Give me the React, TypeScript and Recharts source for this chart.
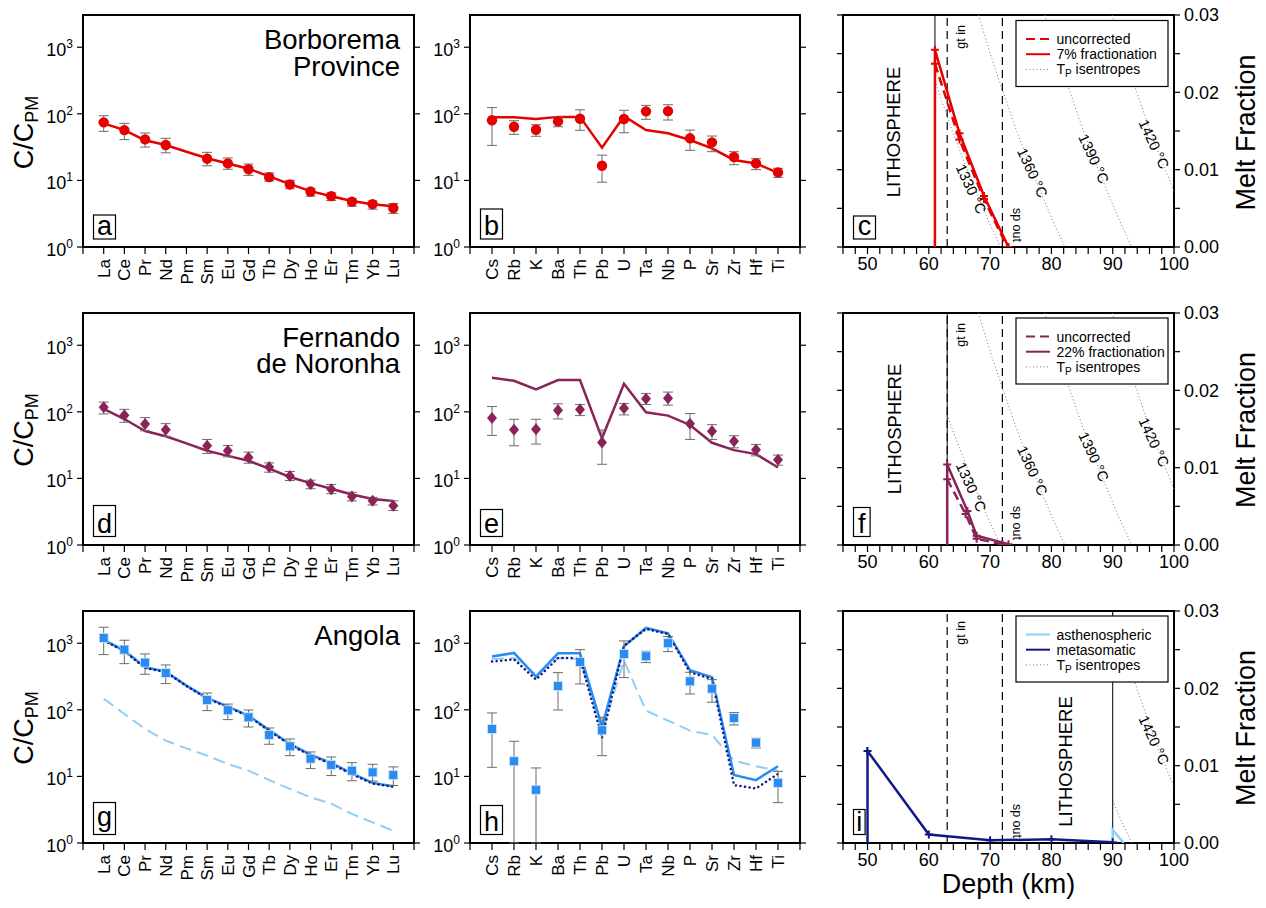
import React from 'react';
import {
  ComposedChart,
  Line,
  Scatter,
  XAxis,
  YAxis,
  ErrorBar,
  ReferenceLine,
  ReferenceDot,
  ReferenceArea,
} from 'recharts';

const FONT = '"Liberation Sans", Arial, Helvetica, sans-serif';

// plot geometry (px on the page)
const COL_X = [83, 470, 843];
const COL_W = [331, 330, 331];
const ROW_Y = [15, 312.5, 610.5];
const ROW_H = 232;
const AX_W = 75;
const M_TOP = 10;
const X_H = 60;

const RED = '#e60000';
const MAROON = '#8a2357';
const BLUE = '#2a8cf0';
const LIGHT = '#8ecff7';
const NAVY = '#101a85';
const ERR = '#6b6b6b';
const ISO = '#777';

const REE = ['La', 'Ce', 'Pr', 'Nd', 'Pm', 'Sm', 'Eu', 'Gd', 'Tb', 'Dy', 'Ho', 'Er', 'Tm', 'Yb', 'Lu'];
const SPIDER = ['Cs', 'Rb', 'K', 'Ba', 'Th', 'Pb', 'U', 'Ta', 'Nb', 'P', 'Sr', 'Zr', 'Hf', 'Ti'];
const LOG_TICKS = [1, 10, 100, 1000];
const LOG_DOMAIN = [1, 3050];

// a - Borborema REE
const aObs = [74.5, 57, 41.4, 34, null, 21.2, 18, 14.7, 11.2, 8.7, 6.8, 5.8, 4.8, 4.4, 3.85];
const aLo = [54.6, 41, 31.7, 26, null, 16.6, 14.7, 11.9, 9.8, 7.5, 5.8, 5.0, 4.1, 3.7, 3.2];
const aHi = [93.6, 72, 51.5, 42.9, null, 26.4, 21.7, 17.6, 12.9, 10, 7.6, 6.5, 5.3, 4.9, 4.5];
const aModel = [72, 57, 40, 34, 27, 21.5, 18, 15, 11.5, 8.8, 6.9, 5.8, 4.9, 4.4, 4.1];

// b - Borborema spider
const bObs = [80, 64, 57.7, 77, 84.5, 16.6, 83.5, 109, 110, 42.9, 37.3, 22.5, 18, 13.2];
const bLo = [33.6, 49.2, 46, 64, 56.5, 9.4, 52, 82.6, 80.7, 28.3, 27, 17.2, 14.5, 11.1];
const bHi = [124, 78.8, 68.6, 90.5, 115, 24, 113, 134, 137, 57, 46.4, 27, 21.2, 15.2];
const bModel = [88.5, 88.5, 84, 90, 90, 31, 92, 57, 51, 40.4, 30.3, 20.3, 18, 13];

// d - Fernando de Noronha REE
const dObs = [117, 88.9, 65.7, 54, null, 30.9, 26, 20.6, 14.9, 10.9, 8.25, 6.85, 5.37, 4.62, 3.88];
const dLo = [93, 69.6, 52, 42.8, null, 23.7, 21.1, 16.9, 12.4, 9.3, 7, 5.9, 4.6, 4, 3.3];
const dHi = [140, 109, 82, 66.5, null, 38.5, 31.3, 24.8, 17.1, 12.7, 9.4, 8.1, 6.2, 5.2, 4.6];
const dModel = [111, 78, 51.5, 43, 33.6, 26, 21.8, 18.4, 14, 10.5, 8.5, 7, 5.75, 4.9, 4.57];

// e - Fernando de Noronha spider
const eObs = [81, 54, 54.6, 106, 108, 34.7, 113, 157, 160, 66.5, 51, 36, 26.9, 19];
const eLo = [44.3, 30.9, 32.8, 78.2, 87.8, 16.3, 89.9, 129, 126, 38.5, 38.5, 28.8, 21.8, 15.8];
const eHi = [120, 77.3, 77.3, 132, 129, 53.3, 133, 189, 198, 94.2, 64.2, 43.8, 32.4, 22.4];
const eModel = [326, 293, 217, 300, 300, 40, 264, 98.6, 87.8, 63.5, 34.3, 26.6, 23.2, 14.6];

// g - Angola REE
const gObs = [1201, 802, 512, 358, null, 141, 98.4, 77.2, 41.9, 28.3, 18.5, 14.9, 12.2, 11.5, 10.5];
const gLo = [675, 494, 342, 248, null, 97.3, 71.3, 55.3, 30.4, 20.5, 13.1, 10.3, 8.6, 8.5, 7.3];
const gHi = [1738, 1109, 691, 472, null, 179, 122, 99.5, 53.4, 36.5, 23.3, 19.6, 16.1, 15.2, 13.9];
const gTotal = [1122, 775, 435, 375, 231, 151, 112, 82, 49.8, 30.7, 21.2, 15.9, 11.1, 8, 7.1];
const gMeta = [1100, 760, 425, 370, 228, 148, 110, 80, 48.5, 30, 20.6, 15.4, 10.8, 7.8, 7.0];
const gAsth = [147, 86.7, 51.6, 34.5, 26.4, 20.5, 15.4, 12.2, 8.8, 6.5, 4.85, 3.9, 2.73, 2.04, 1.53];

// h - Angola spider
const hObs = [51.6, 16.9, 6.3, 228, 524, 49.3, 691, 637, 1000, 268, 208, 75.5, 32.2, 8.0];
const hLo = [13.7, 1, 1, 99.5, 245, 20.5, 305, 512, 749, 173, 130, 59.3, 26.8, 4.04];
const hHi = [89.8, 33.7, 13.4, 362, 802, 77.3, 1083, 757, 1259, 366, 284, 90.8, 37.4, 11.9];
const hTotal = [630, 715, 315, 707, 707, 56, 900, 1698, 1413, 393, 308, 10.5, 8.8, 14.2];
const hMeta = [530, 574, 284, 601, 601, 37.8, 921, 1640, 1380, 366, 291, 7.4, 6.6, 10.9];
const hAsth = [581, 601, 338, 601, 574, 46, 548, 97.3, 68.8, 48.7, 41.9, 17.3, 14.2, 12.2];

// melt fraction vs depth
const DEPTH_TICKS = [46, 48, 50, 52, 54, 56, 58, 60, 62, 64, 66, 68, 70, 72, 74, 76, 78, 80, 82, 84, 86, 88, 90, 92, 94, 96, 98, 100];
const F_TICKS = [0, 0.005, 0.01, 0.015, 0.02, 0.025, 0.03];
const GT_IN = 63;
const SP_OUT = 72;

const cSolidD = [61, 61, 65, 69, 73];
const cSolidF = [0, 0.0255, 0.0147, 0.0066, 0];
const cDashD = [61, 65, 69, 72.8];
const cDashF = [0.0237, 0.0139, 0.0062, 0];

const fSolidD = [63, 63, 66.3, 67.8, 73];
const fSolidF = [0, 0.0104, 0.0044, 0.0012, 0.0001];
const fDashD = [63, 66, 67.8, 72];
const fDashF = [0.0085, 0.004, 0.0008, 0.0001];

const iMetaD = [50, 50, 60, 70, 80, 90];
const iMetaF = [0, 0.0119, 0.0011, 0.00035, 0.00047, 0.0001];
const iAsthD = [90, 90, 91.8];
const iAsthF = [0, 0.0017, 0];

const isoF = [0.03, 0.0248, 0.0201, 0.0155, 0.0113, 0.0074, 0.0036, 0];
const iso1330D = [57.6, 59.6, 61.6, 63.6, 65.6, 67.6, 69.6, 71.7];
const iso1360D = [68.1, 70.1, 72.1, 74.1, 76.1, 78.1, 80.1, 82.2];
const iso1390D = [78.9, 81, 83, 85, 87, 89, 91, 93.1];
const iso1420D = [89.9, 91.9, 93.9, 95.9, 97.9, 99.9, 101.9, 104];
const isoTemps = [1330, 1360, 1390, 1420];
const isoLabD = [66.9, 76.9, 86.9, 96.7];
const isoLabF = [0.0075, 0.0096, 0.0114, 0.0133];

const obsPoints = (obs: any[], lo: any[], hi: any[]) =>
  obs.flatMap((v, i) => (v == null ? [] : [{ x: i + 1, y: v, err: [v - lo[i], hi[i] - v] }]));
const curve = (vals: number[]) => vals.map((v, i) => ({ x: i + 1, y: v }));
const melt = (ds: number[], fs: number[], markFrom: number) => ds.map((d, i) => ({ d, f: fs[i], m: i >= markFrom }));

// cut an isentrope at the base of the lithosphere
const clipIso = (ds: number[], lith: number) => {
  const out: any[] = [];
  ds.forEach((d, i) => {
    if (d < lith) return;
    if (i > 0 && ds[i - 1] < lith) {
      const t = (lith - ds[i - 1]) / (d - ds[i - 1]);
      out.push({ d: lith, f: isoF[i - 1] + t * (isoF[i] - isoF[i - 1]) });
    }
    out.push({ d, f: isoF[i] });
  });
  return out;
};

const TICK_LINE = { stroke: '#000', strokeWidth: 1.2 };
const NoTick = () => <g />;

const LogTick = (props: any) => {
  const { x, y, payload } = props;
  const n = Math.round(Math.log10(payload.value));
  return (
    <text x={x} y={y + 9} textAnchor="end" fontSize={18} fontFamily={FONT} fill="#000">
      10<tspan dy={-8} fontSize={12}>{n}</tspan>
    </text>
  );
};

const elTick = (labels: string[]) => (props: any) => {
  const { x, y, payload } = props;
  const lab = labels[payload.value - 1];
  if (!lab) return <g />;
  const yy = y + 3;
  return (
    <text x={x} y={yy} transform={`rotate(-90 ${x} ${yy})`} textAnchor="end" dy="0.36em" fontSize={17} fontFamily={FONT} fill="#000">
      {lab}
    </text>
  );
};

const DepthTick = (props: any) => {
  const { x, y, payload } = props;
  if (payload.value % 10 !== 0) return <g />;
  return (
    <text x={x} y={y + 13.5} textAnchor="middle" fontSize={18} fontFamily={FONT} fill="#000">
      {payload.value}
    </text>
  );
};

const FracTick = (props: any) => {
  const { x, y, payload } = props;
  const v = payload.value;
  if (Math.abs(v * 100 - Math.round(v * 100)) > 1e-6) return <g />;
  return (
    <text x={x} y={y + 6.4} textAnchor="start" fontSize={18} fontFamily={FONT} fill="#000">
      {v.toFixed(2)}
    </text>
  );
};

const circle = (color: string) => (p: any) => <circle cx={p.cx} cy={p.cy} r={5.2} fill={color} />;
const diamond = (color: string) => (p: any) => (
  <polygon points={`${p.cx},${p.cy - 6} ${p.cx + 5},${p.cy} ${p.cx},${p.cy + 6} ${p.cx - 5},${p.cy}`} fill={color} />
);
const square = (color: string) => (p: any) => (
  <rect x={p.cx - 4.5} y={p.cy - 4.5} width={9} height={9} fill={color} stroke="#cfe6fb" strokeWidth={0.8} />
);

const plusDot = (color: string) => (p: any) => {
  const { cx, cy, payload, index } = p;
  if (!payload || !payload.m) return <g key={index} />;
  return <path key={index} d={`M${cx - 4},${cy}H${cx + 4}M${cx},${cy - 4}V${cy + 4}`} stroke={color} strokeWidth={2} fill="none" />;
};

type Series = { data: any[]; color: string; width?: number; dash?: string; cap?: any };

function LogPanel({ col, row, labels, points, shape, lines }: { col: number; row: number; labels: string[]; points: any[]; shape: any; lines: Series[] }) {
  const n = labels.length;
  const ticks = Array.from({ length: n + 2 }, (_, i) => i);
  const W = COL_W[col] + 2 * AX_W;
  const H = ROW_H + M_TOP + X_H;
  return (
    <div style={{ position: 'absolute', left: COL_X[col] - AX_W, top: ROW_Y[row] - M_TOP }}>
      <ComposedChart width={W} height={H} margin={{ top: M_TOP, right: 0, bottom: 0, left: 0 }}>
        <XAxis type="number" dataKey="x" domain={[0, n + 1]} ticks={ticks} interval={0} allowDataOverflow height={X_H}
          tickSize={7} tickMargin={2} axisLine={false} tickLine={TICK_LINE} tick={elTick(labels)} />
        <YAxis type="number" scale="log" domain={LOG_DOMAIN} ticks={LOG_TICKS} interval={0} allowDataOverflow width={AX_W}
          tickSize={6} tickMargin={4} axisLine={false} tickLine={TICK_LINE} tick={LogTick} />
        <YAxis yAxisId="r" orientation="right" type="number" scale="log" domain={LOG_DOMAIN} ticks={LOG_TICKS} interval={0}
          allowDataOverflow width={AX_W} tickSize={6} axisLine={false} tickLine={TICK_LINE} tick={NoTick} />
        <ReferenceArea x1={0} x2={n + 1} y1={LOG_DOMAIN[0]} y2={LOG_DOMAIN[1]} fill="none" stroke="#000" strokeWidth={2} ifOverflow="visible" />
        {lines.map((s, k) => (
          <Line key={k} data={s.data} dataKey="y" stroke={s.color} strokeWidth={s.width ?? 2.5} strokeDasharray={s.dash}
            strokeLinecap={s.cap ?? 'butt'} dot={false} isAnimationActive={false} />
        ))}
        <Scatter data={points} dataKey="y" shape={shape} isAnimationActive={false}>
          <ErrorBar dataKey="err" direction="y" width={5} stroke={ERR} strokeWidth={1} isAnimationActive={false} />
        </Scatter>
      </ComposedChart>
    </div>
  );
}

// "gt in" reads bottom-to-top, hanging from the top of the frame
const gtLabel = (p: any) => {
  const vb = p.viewBox || {};
  const x = vb.x + 17.5;
  const y = vb.y + 10;
  return (
    <text x={x} y={y} transform={`rotate(-90 ${x} ${y})`} textAnchor="end" fontSize={12.5} fontFamily={FONT} fill="#000">gt in</text>
  );
};
// "sp out" reads top-to-bottom, standing on the bottom of the frame
const spLabel = (p: any) => {
  const vb = p.viewBox || {};
  const x = vb.x + 10.5;
  const y = vb.y + vb.height - 5;
  return (
    <text x={x} y={y} transform={`rotate(90 ${x} ${y})`} textAnchor="end" fontSize={12.5} fontFamily={FONT} fill="#000">sp out</text>
  );
};

function MeltPanel({ row, lith, series }: { row: number; lith: number; series: Series[] }) {
  const W = COL_W[2] + 2 * AX_W;
  const H = ROW_H + M_TOP + X_H;
  const isos = [iso1330D, iso1360D, iso1390D, iso1420D].map((ds) => clipIso(ds, lith));
  return (
    <div style={{ position: 'absolute', left: COL_X[2] - AX_W, top: ROW_Y[row] - M_TOP }}>
      <ComposedChart width={W} height={H} margin={{ top: M_TOP, right: 0, bottom: 0, left: 0 }}>
        <XAxis type="number" dataKey="d" domain={[46, 100]} ticks={DEPTH_TICKS} interval={0} allowDataOverflow height={X_H}
          tickSize={7} tickMargin={2} axisLine={false} tickLine={TICK_LINE} tick={DepthTick} />
        <YAxis type="number" domain={[0, 0.03]} ticks={F_TICKS} interval={0} allowDataOverflow width={AX_W}
          tickSize={6} axisLine={false} tickLine={TICK_LINE} tick={NoTick} />
        <YAxis yAxisId="r" orientation="right" type="number" domain={[0, 0.03]} ticks={F_TICKS} interval={0} allowDataOverflow
          width={AX_W} tickSize={6} tickMargin={4} axisLine={false} tickLine={TICK_LINE} tick={FracTick} />
        <ReferenceArea x1={46} x2={100} y1={0} y2={0.03} fill="none" stroke="#000" strokeWidth={2} ifOverflow="visible" />
        {isos.map((d, k) =>
          d.length > 1 ? (
            <Line key={`iso${k}`} data={d} dataKey="f" stroke={ISO} strokeWidth={1} strokeDasharray="1 2.5" dot={false} isAnimationActive={false} />
          ) : null
        )}
        <ReferenceLine x={GT_IN} stroke="#000" strokeWidth={1.2} strokeDasharray="8 5" label={gtLabel} />
        <ReferenceLine x={SP_OUT} stroke="#000" strokeWidth={1.2} strokeDasharray="8 5" label={spLabel} />
        <ReferenceLine x={lith} stroke="#000" strokeWidth={1} />
        {series.map((s, k) => (
          <Line key={k} data={s.data} dataKey="f" stroke={s.color} strokeWidth={s.width ?? 2.5} strokeDasharray={s.dash}
            dot={plusDot(s.color)} isAnimationActive={false} />
        ))}
        {isoTemps.map((t, k) =>
          isoLabD[k] > lith + 2 ? (
            <ReferenceDot key={`lab${t}`} x={isoLabD[k]} y={isoLabF[k]} r={0} ifOverflow="visible"
              shape={(p: any) => (
                <text x={p.cx} y={p.cy} transform={`rotate(65 ${p.cx} ${p.cy})`} textAnchor="middle" dominantBaseline="central"
                  fontSize={14.5} fontFamily={FONT} fill="#000">{`${t} °C`}</text>
              )} />
          ) : null
        )}
      </ComposedChart>
    </div>
  );
}

const LETTERS = [
  { ch: 'a', c: 0, r: 0, w: 22, h: 24, b: 4 },
  { ch: 'b', c: 1, r: 0, w: 22, h: 30, b: 4 },
  { ch: 'c', c: 2, r: 0, w: 22, h: 23, b: 4 },
  { ch: 'd', c: 0, r: 1, w: 22, h: 31, b: 4 },
  { ch: 'e', c: 1, r: 1, w: 22, h: 27, b: 4 },
  { ch: 'f', c: 2, r: 1, w: 16.6, h: 29, b: 4 },
  { ch: 'g', c: 0, r: 2, w: 22, h: 32, b: 9 },
  { ch: 'h', c: 1, r: 2, w: 22, h: 29, b: 4 },
  { ch: 'i', c: 2, r: 2, w: 11.6, h: 25, b: 4 },
];

const LEGENDS = [
  { r: 0, items: [['uncorrected', RED, '9 5', 2], ['7% fractionation', RED, undefined, 2], ['T', ISO, '1 2.5', 1]] },
  { r: 1, items: [['uncorrected', MAROON, '9 5', 2], ['22% fractionation', MAROON, undefined, 2], ['T', ISO, '1 2.5', 1]] },
  { r: 2, items: [['asthenospheric', LIGHT, undefined, 2], ['metasomatic', NAVY, undefined, 2], ['T', ISO, '1 2.5', 1]] },
];

function Overlay() {
  const lx = 1016;
  return (
    <svg width={1266} height={908} style={{ position: 'absolute', left: 0, top: 0, pointerEvents: 'none' }} fontFamily={FONT}>
      {/* site names */}
      <text x={400} y={49.3} textAnchor="end" fontSize={27.5}>Borborema</text>
      <text x={400} y={76} textAnchor="end" fontSize={27.5}>Province</text>
      <text x={400} y={346.7} textAnchor="end" fontSize={27.5}>Fernando</text>
      <text x={400} y={373.3} textAnchor="end" fontSize={27.5}>de Noronha</text>
      <text x={400} y={645} textAnchor="end" fontSize={27.5}>Angola</text>

      {/* axis titles */}
      {ROW_Y.map((ry, k) => {
        const cy = ry + ROW_H / 2 + 1.5;
        return (
          <g key={`t${k}`}>
            <text x={33} y={cy} transform={`rotate(-90 33 ${cy})`} textAnchor="middle" fontSize={27}>
              C/C<tspan fontSize={18} dy={5}>PM</tspan>
            </text>
            <text x={1255} y={cy} transform={`rotate(-90 1255 ${cy})`} textAnchor="middle" fontSize={27}>Melt Fraction</text>
          </g>
        );
      })}
      <text x={1008.5} y={893} textAnchor="middle" fontSize={27}>Depth (km)</text>

      {/* lithosphere labels */}
      <text x={900} y={132} transform="rotate(-90 900 132)" textAnchor="middle" fontSize={18.5}>LITHOSPHERE</text>
      <text x={901} y={429} transform="rotate(-90 901 429)" textAnchor="middle" fontSize={18.5}>LITHOSPHERE</text>
      <text x={1071.5} y={761.5} transform="rotate(-90 1071.5 761.5)" textAnchor="middle" fontSize={18.5}>LITHOSPHERE</text>

      {/* panel letters */}
      {LETTERS.map((L) => {
        const bottom = ROW_Y[L.r] + ROW_H - 8;
        const x0 = COL_X[L.c] + 10.5;
        return (
          <g key={L.ch}>
            <rect x={x0} y={bottom - L.h} width={L.w} height={L.h} fill="#fff" stroke="#000" strokeWidth={1.2} />
            <text x={x0 + L.w / 2} y={bottom - L.b} textAnchor="middle" fontSize={27}>{L.ch}</text>
          </g>
        );
      })}

      {/* legends */}
      {LEGENDS.map((lg) => {
        const top = ROW_Y[lg.r] + 5.5;
        return (
          <g key={`lg${lg.r}`}>
            <rect x={lx} y={top} width={152} height={66} fill="#fff" stroke="#000" strokeWidth={1.2} />
            {lg.items.map((it: any, k) => {
              const cy = top + 18.5 + k * 15.2;
              return (
                <g key={k}>
                  <line x1={lx + 10} x2={lx + 34} y1={cy} y2={cy} stroke={it[1]} strokeWidth={it[3]} strokeDasharray={it[2]} />
                  {it[0] === 'T' ? (
                    <text x={lx + 40.5} y={cy + 5} fontSize={14}>
                      T<tspan fontSize={10} dy={3}>P</tspan><tspan dy={-3}> isentropes</tspan>
                    </text>
                  ) : (
                    <text x={lx + 40.5} y={cy + 5} fontSize={14}>{it[0]}</text>
                  )}
                </g>
              );
            })}
          </g>
        );
      })}
    </svg>
  );
}

const App = () => (
  <div style={{ position: 'absolute', left: 0, top: 0, width: 1266, height: 908, background: '#fff' }}>
    <LogPanel col={0} row={0} labels={REE} points={obsPoints(aObs, aLo, aHi)} shape={circle(RED)}
      lines={[{ data: curve(aModel), color: RED }]} />
    <LogPanel col={1} row={0} labels={SPIDER} points={obsPoints(bObs, bLo, bHi)} shape={circle(RED)}
      lines={[{ data: curve(bModel), color: RED }]} />
    <MeltPanel row={0} lith={61}
      series={[{ data: melt(cDashD, cDashF, 0), color: RED, dash: '9 5' }, { data: melt(cSolidD, cSolidF, 1), color: RED }]} />

    <LogPanel col={0} row={1} labels={REE} points={obsPoints(dObs, dLo, dHi)} shape={diamond(MAROON)}
      lines={[{ data: curve(dModel), color: MAROON }]} />
    <LogPanel col={1} row={1} labels={SPIDER} points={obsPoints(eObs, eLo, eHi)} shape={diamond(MAROON)}
      lines={[{ data: curve(eModel), color: MAROON }]} />
    <MeltPanel row={1} lith={63}
      series={[{ data: melt(fDashD, fDashF, 0), color: MAROON, dash: '9 5' }, { data: melt(fSolidD, fSolidF, 1), color: MAROON }]} />

    <LogPanel col={0} row={2} labels={REE} points={obsPoints(gObs, gLo, gHi)} shape={square(BLUE)}
      lines={[
        { data: curve(gAsth), color: LIGHT, width: 2, dash: '12 6' },
        { data: curve(gTotal), color: BLUE, width: 2.5 },
        { data: curve(gMeta), color: NAVY, width: 2.5, dash: '0.1 4.5', cap: 'round' },
      ]} />
    <LogPanel col={1} row={2} labels={SPIDER} points={obsPoints(hObs, hLo, hHi)} shape={square(BLUE)}
      lines={[
        { data: curve(hAsth), color: LIGHT, width: 2, dash: '12 6' },
        { data: curve(hTotal), color: BLUE, width: 2.5 },
        { data: curve(hMeta), color: NAVY, width: 2.5, dash: '0.1 4.5', cap: 'round' },
      ]} />
    <MeltPanel row={2} lith={90}
      series={[{ data: melt(iAsthD, iAsthF, 99), color: LIGHT }, { data: melt(iMetaD, iMetaF, 1), color: NAVY }]} />

    <Overlay />
  </div>
);

export default App;
